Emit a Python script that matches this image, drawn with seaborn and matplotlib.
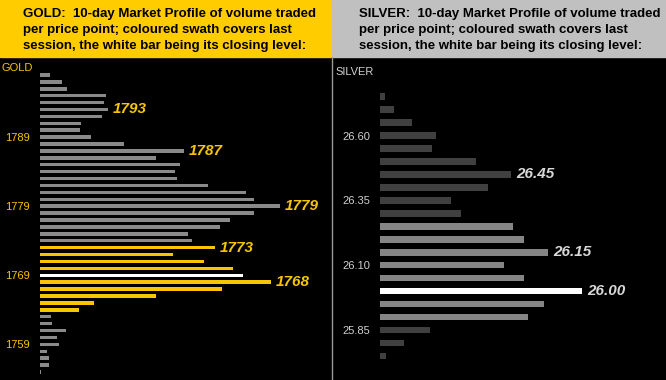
import matplotlib
matplotlib.use('Agg')
import matplotlib.pyplot as plt
from matplotlib.patches import Rectangle
from matplotlib.lines import Line2D
import pandas as pd
import seaborn as sns

# gold profile, top price first
gold_prices = [1798, 1797, 1796, 1795, 1794, 1793, 1792, 1791, 1790, 1789,
               1788, 1787, 1786, 1785, 1784, 1783, 1782, 1781, 1780, 1779,
               1778, 1777, 1776, 1775, 1774, 1773, 1772, 1771, 1770, 1769,
               1768, 1767, 1766, 1765, 1764, 1763, 1762, 1761, 1760, 1759,
               1758, 1757, 1756, 1755]
gold_volume = [10, 22, 27, 66, 64, 68, 62, 41, 40, 51,
               84, 144, 116, 140, 135, 137, 168, 206, 214, 240,
               214, 190, 180, 148, 152, 175, 133, 164, 193, 203,
               231, 182, 116, 54, 39, 11, 12, 26, 17, 19,
               7, 9, 9, 1]
gold_session = [1773, 1772, 1771, 1770, 1769, 1768, 1767, 1766, 1765, 1764]
gold_close = 1769
gold_ticks = [1789, 1779, 1769, 1759]
gold_callouts = [1793, 1787, 1779, 1773, 1768]

# silver profile
silver_prices = ['26.75', '26.70', '26.65', '26.60', '26.55', '26.50', '26.45',
                 '26.40', '26.35', '26.30', '26.25', '26.20', '26.15', '26.10',
                 '26.05', '26.00', '25.95', '25.90', '25.85', '25.80', '25.75']
silver_volume = [5, 14, 32, 56, 52, 96, 131,
                 108, 71, 81, 133, 144, 168, 124,
                 144, 202, 164, 148, 50, 24, 6]
silver_session = ['26.25', '26.20', '26.15', '26.10', '26.05', '26.00', '25.95', '25.90']
silver_close = '26.00'
silver_ticks = ['26.60', '26.35', '26.10', '25.85']
silver_callouts = ['26.45', '26.15', '26.00']

gold_title = ("GOLD:  10-day Market Profile of volume traded\n"
              "per price point; coloured swath covers last\n"
              "session, the white bar being its closing level:")
silver_title = ("SILVER:  10-day Market Profile of volume traded\n"
                "per price point; coloured swath covers last\n"
                "session, the white bar being its closing level:")

YELLOW = '#f7c600'
W, H = 666, 380
TOP = 57

sns.set_style('dark')
plt.rcParams['font.family'] = ['Liberation Sans', 'DejaVu Sans']


def draw_panel(ax, prices, volume, colors, ticks, callouts, tick_color,
               label_color, xmin, xmax, ymin, ymax, tick_pad):
    names = [str(p) for p in prices]
    df = pd.DataFrame({'price': names, 'volume': volume})
    sns.barplot(data=df, x='volume', y='price', hue='price', order=names,
                palette=dict(zip(names, colors)), orient='h', width=0.5,
                saturation=1, legend=False, linewidth=0, ax=ax)
    ax.set_facecolor('black')
    for s in ax.spines.values():
        s.set_visible(False)
    ax.set_xlim(xmin, xmax)
    ax.set_ylim(ymax, ymin)
    ax.set_xticks([])
    ax.set_yticks([names.index(str(t)) for t in ticks])
    ax.set_yticklabels([str(t) for t in ticks])
    ax.tick_params(axis='y', length=0, pad=tick_pad * 0.72,
                   labelcolor=tick_color, labelsize=8)
    ax.set_xlabel('')
    ax.set_ylabel('')
    for c in callouts:
        i = names.index(str(c))
        ax.annotate(str(c), xy=(volume[i], i), xytext=(3.6, 0),
                    textcoords='offset points', ha='left', va='center',
                    fontsize=11, fontweight='bold', fontstyle='italic',
                    color=label_color)


fig = plt.figure(figsize=(W / 100, H / 100), dpi=100, facecolor='black')

# header strips
fig.patches.append(Rectangle((0, 1 - TOP / H), 331 / W, TOP / H,
                             transform=fig.transFigure, color='#ffcc00', zorder=0))
fig.patches.append(Rectangle((332 / W, 1 - TOP / H), 334 / W, TOP / H,
                             transform=fig.transFigure, color='#c0c0c0', zorder=0))
fig.text(23 / W, 1 - 30 / H, gold_title, ha='left', va='center', fontsize=9.5,
         fontweight='bold', linespacing=1.45, color='black')
fig.text(359 / W, 1 - 30 / H, silver_title, ha='left', va='center', fontsize=9.5,
         fontweight='bold', linespacing=1.45, color='black')

ax_gold = fig.add_axes([0, 0, 331 / W, (H - TOP) / H])
gold_colors = []
for p in gold_prices:
    if p == gold_close:
        gold_colors.append('white')
    elif p in gold_session:
        gold_colors.append(YELLOW)
    else:
        gold_colors.append('#8a8a8a')
draw_panel(ax_gold, gold_prices, gold_volume, gold_colors, gold_ticks,
           gold_callouts, YELLOW, YELLOW, -40, 291, -2.6, 44.16, -30)

ax_silver = fig.add_axes([333 / W, 0, 333 / W, (H - TOP) / H])
silver_colors = []
for p in silver_prices:
    if p == silver_close:
        silver_colors.append('white')
    elif p in silver_session:
        silver_colors.append('#858585')
    else:
        silver_colors.append('#404040')
draw_panel(ax_silver, silver_prices, silver_volume, silver_colors, silver_ticks,
           silver_callouts, '#d0d0d0', '#d8d8d8', -47, 286, -3.06, 21.85, -37)

fig.text(2 / W, 1 - 68 / H, 'GOLD', ha='left', va='center', fontsize=8, color=YELLOW)
fig.text(335 / W, 1 - 72 / H, 'SILVER', ha='left', va='center', fontsize=8, color='#d0d0d0')

fig.add_artist(Line2D([331.5 / W, 331.5 / W], [0, 1 - TOP / H], color='#9a9a9a', lw=1))

fig.savefig('out.png', dpi=100, facecolor='black')
